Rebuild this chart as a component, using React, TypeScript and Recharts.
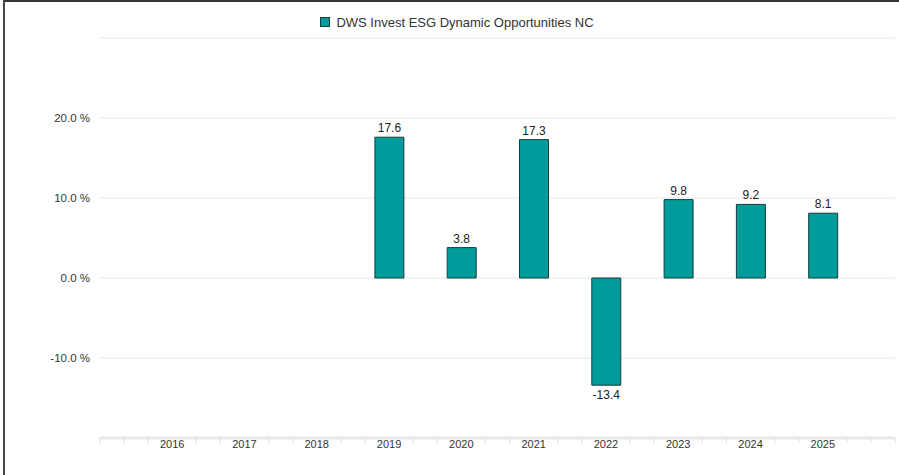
import { BarChart, Bar, XAxis, YAxis, CartesianGrid, Legend, LabelList } from 'recharts';

const years = ['2016', '2017', '2018', '2019', '2020', '2021', '2022', '2023', '2024', '2025'];
const returns: (number | null)[] = [null, null, null, 17.6, 3.8, 17.3, -13.4, 9.8, 9.2, 8.1];
const yTicks = [-20, -10, 0, 10, 20, 30];
const seriesName = 'DWS Invest ESG Dynamic Opportunities NC';

const data = years.map((year, i) => ({ year, value: returns[i] }));

const TEAL = '#009b9b';
const BAR_STROKE = '#1d3b3b';
const GRID = '#e6e6e6';
const TEXT = '#333333';
const FONT = 'Liberation Sans, Arial, sans-serif';

// minor tick marks sit a third of a band apart, labels cover the middle one
const STEP = 72.3 / 3;

function YearTick(props: any) {
  const { x, y, payload, index } = props;
  const marks = [x - STEP, x + STEP];
  if (index === 0) marks.push(x - 2 * STEP, x - 3 * STEP);
  if (index === years.length - 1) marks.push(x + 2 * STEP, x + 3 * STEP);
  return (
    <g>
      {marks.map((m, i) => (
        <line key={i} x1={m} x2={m} y1={y} y2={y + 5} stroke="#dcdcdc" strokeWidth={1} />
      ))}
      <text x={x} y={y + 10} textAnchor="middle" fontSize={11} fontFamily={FONT} fill={TEXT}>
        {payload.value}
      </text>
    </g>
  );
}

function LegendContent() {
  return (
    <div
      style={{
        display: 'flex',
        justifyContent: 'center',
        alignItems: 'center',
        paddingLeft: 19,
        height: 20,
        fontFamily: FONT,
        fontSize: 13,
        color: TEXT,
      }}
    >
      <span
        style={{
          display: 'inline-block',
          width: 8,
          height: 8,
          background: TEAL,
          border: `1px solid ${BAR_STROKE}`,
          marginRight: 6,
        }}
      />
      <span>{seriesName}</span>
    </div>
  );
}

export default function App() {
  return (
    <div style={{ position: 'absolute', left: 0, top: 0, width: 899, height: 475, background: '#fff' }}>
      <div style={{ position: 'absolute', left: 3, top: 0, width: 896, height: 2, background: '#333' }} />
      <div style={{ position: 'absolute', left: 3, top: 0, width: 2, height: 475, background: '#444' }} />
      <BarChart
        width={899}
        height={475}
        data={data}
        margin={{ top: 18, right: 4, left: 0, bottom: 7 }}
      >
        <CartesianGrid stroke={GRID} vertical={false} />
        <Legend
          verticalAlign="top"
          align="center"
          content={<LegendContent />}
          wrapperStyle={{ top: 12, height: 20 }}
        />
        <XAxis
          dataKey="year"
          tick={<YearTick />}
          tickLine={false}
          tickSize={0}
          tickMargin={0}
          axisLine={{ stroke: '#e8e8e8', strokeWidth: 3 }}
          padding={{ left: 36, right: 36 }}
          height={30}
          interval={0}
        />
        <YAxis
          domain={[-20, 30]}
          ticks={yTicks}
          width={100}
          tickLine={false}
          axisLine={false}
          tickMargin={4}
          tick={{ fontSize: 11.5, fontFamily: FONT, fill: TEXT }}
          tickFormatter={(v: number) => (v === 30 || v === -20 ? '' : `${v.toFixed(1)} %`)}
        />
        <Bar
          dataKey="value"
          name={seriesName}
          fill={TEAL}
          stroke={BAR_STROKE}
          strokeWidth={1}
          barSize={29}
          isAnimationActive={false}
        >
          <LabelList
            dataKey="value"
            position="top"
            offset={5}
            fontSize={12}
            fontFamily={FONT}
            fill="#222"
            formatter={(v: any) => (v == null ? '' : Number(v).toFixed(1))}
          />
        </Bar>
      </BarChart>
    </div>
  );
}
